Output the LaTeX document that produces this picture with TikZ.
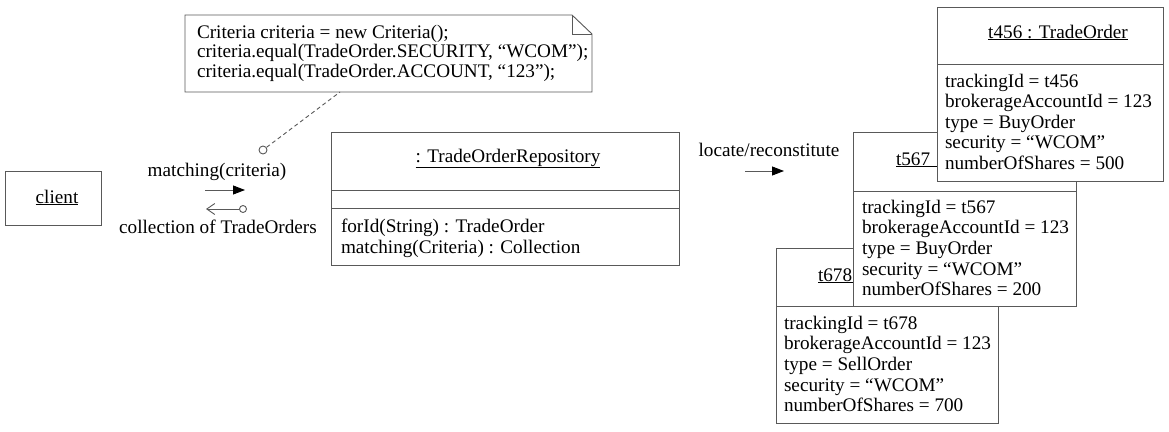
\documentclass[tikz,border=0pt]{standalone}
\usepackage{fontspec}
\setmainfont{Liberation Serif}
\usetikzlibrary{arrows.meta,calc}
\begin{document}
\begin{tikzpicture}[x=1pt,y=-1pt,
  ln/.style={draw=black!65, line width=0.9pt},
  box/.style={ln, fill=white, rectangle, inner sep=0pt, outer sep=0pt},
  txt/.style={inner sep=0pt, outer sep=0pt, font=\fontsize{19.2}{20.5}\selectfont, text=black},
  lollipop/.style={circle, ln, fill=white, minimum size=8pt, inner sep=0pt},
  msg/.style={ln, -{Triangle[length=12pt,width=9pt,color=black]}},
  retmsg/.style={ln, -{Straight Barb[length=8pt,width=11pt]}},
]
\useasboundingbox (0,0) rectangle (1169,431);

% client
\node[box, minimum width=96pt, minimum height=54pt] (client) at (53,198) {};
\node[txt, anchor=base] (clientT) at (57,203) {\underline{client}};

% note
\node[inner sep=0pt, outer sep=0pt, minimum width=407pt, minimum height=77pt] (note) at (388.5,53.5) {};
\coordinate (fold) at ($(note.north east)+(-20,0)$);
\coordinate (foldR) at ($(note.north east)+(0,19)$);
\draw[ln, fill=white] (note.north west) -- (fold) -- (foldR) -- (note.south east) -- (note.south west) -- cycle;
\draw[ln] (fold) |- (foldR);
\foreach \t [count=\i] in {{Criteria criteria = new Criteria();},
  {criteria.equal(TradeOrder.SECURITY, “WCOM”);},
  {criteria.equal(TradeOrder.ACCOUNT, “123”);}}
  \node[txt, anchor=base west] (noteL\i) at (197,{38+(\i-1)*19.5}) {\t};

% lollipop + dashed link
\node[lollipop] (crit) at (263,150) {};
\coordinate (noteDash) at (340,92);
\draw[ln, dashed, dash pattern=on 4pt off 3pt] (crit) -- (noteDash);

% messages
\node[txt, anchor=base] (mLbl) at (217,176) {matching(criteria)};
\coordinate (mS) at (205,190);
\coordinate (mE) at (245,190);
\draw[msg] (mS) -- (mE);
\node[lollipop, minimum size=7pt] (ret) at (243,209) {};
\coordinate (retTip) at (206,209);
\draw[retmsg] (ret) -- (retTip);
\node[txt, anchor=base] (rLbl) at (218,233) {collection of TradeOrders};

% repository
\node[box, minimum width=348pt, minimum height=133pt] (repo) at (505,198.5) {};
\draw[ln] ($(repo.north west)+(0,58)$) -- ($(repo.north east)+(0,58)$);
\draw[ln] ($(repo.north west)+(0,76)$) -- ($(repo.north east)+(0,76)$);
\node[txt, anchor=base] (repoT) at (508,162) {\underline{: TradeOrderRepository}};
\node[txt, anchor=base west] (op1) at (341,232) {forId(String) : TradeOrder};
\node[txt, anchor=base west] (op2) at (341,253) {matching(Criteria) : Collection};

% locate
\node[txt, anchor=base] (lLbl) at (769,156) {locate/reconstitute};
\coordinate (lS) at (745,171);
\coordinate (lE) at (784,171);
\draw[msg] (lS) -- (lE);

% t678
\node[box, minimum width=222pt, minimum height=175pt] (o3) at (887,335.5) {};
\draw[ln] ($(o3.north west)+(0,58)$) -- ($(o3.north east)+(0,58)$);
\node[txt, anchor=base west] (o3T) at (818,281) {\underline{\makebox[34.5pt][l]{t678}}};
\foreach \t [count=\i] in {{trackingId = t678},{brokerageAccountId = 123},{type = SellOrder},{security = “WCOM”},{numberOfShares = 700}}
  \node[txt, anchor=base west] (o3a\i) at (784,{329+(\i-1)*20.7}) {\t};

% t567
\node[box, minimum width=223pt, minimum height=174pt] (o2) at (964.5,219) {};
\draw[ln] ($(o2.north west)+(0,59)$) -- ($(o2.north east)+(0,59)$);
\node[txt, anchor=base west] (o2T) at (896,165) {\underline{\makebox[41pt][l]{t567}}};
\foreach \t [count=\i] in {{trackingId = t567},{brokerageAccountId = 123},{type = BuyOrder},{security = “WCOM”},{numberOfShares = 200}}
  \node[txt, anchor=base west] (o2a\i) at (862,{213+(\i-1)*20.7}) {\t};

% t456
\node[box, minimum width=226pt, minimum height=174pt] (o1) at (1050,94) {};
\draw[ln] ($(o1.north west)+(0,57)$) -- ($(o1.north east)+(0,57)$);
\node[txt, anchor=base] (o1T) at (1058,38) {\underline{t456 : TradeOrder}};
\foreach \t [count=\i] in {{trackingId = t456},{brokerageAccountId = 123},{type = BuyOrder},{security = “WCOM”},{numberOfShares = 500}}
  \node[txt, anchor=base west] (o1a\i) at (945,{87+(\i-1)*20.5}) {\t};
\end{tikzpicture}
\end{document}
